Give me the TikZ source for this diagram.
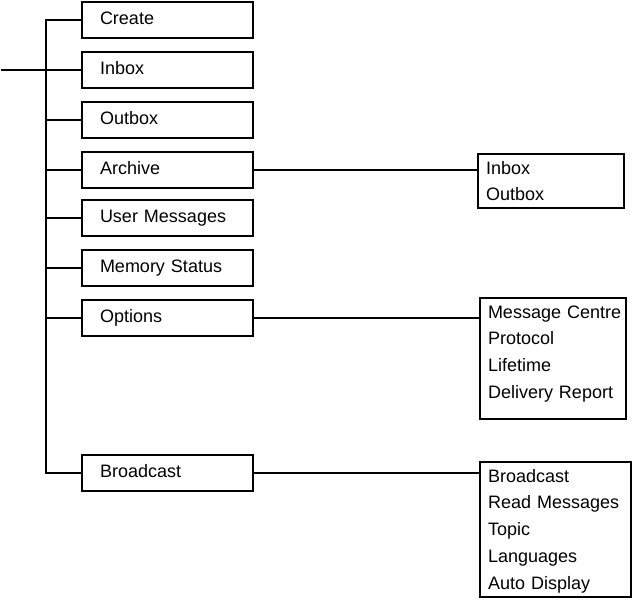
\documentclass[tikz,border=0pt]{standalone}
\usepackage{fontspec}
\setmainfont{Liberation Sans}
\hyphenpenalty=10000
\exhyphenpenalty=10000
\tikzset{
  % A first-level menu entry
  menubox/.style={
    draw, line width=2pt, anchor=west, align=left, outer sep=0pt,
    inner xsep=18pt, inner ysep=0pt, text width=135pt,
    minimum height=36pt, text height=12.5pt, text depth=3.5pt},
  % A box that lists the entries of a submenu
  sublist/.style={
    draw, line width=2pt, anchor=north west, align=left, outer sep=0pt,
    inner xsep=8pt, inner ysep=0pt, text width=#1, text height=20pt},
  % Tree lines
  link/.style={line width=2pt, line cap=rect},
}
\newcommand{\menuitem}[3]{%
  \node[menubox] (#1) at (82,#2) {#3};}

\begin{document}
\begin{tikzpicture}[x=1pt, y=-1pt, font=\fontsize{18}{26.8}\selectfont]
  \useasboundingbox (0,0) rectangle (632,600);

  \menuitem{create}{20}{Create}
  \menuitem{inbox}{70}{Inbox}
  \menuitem{outbox}{120}{Outbox}
  \menuitem{archive}{170}{Archive}
  \menuitem{usermsg}{218}{User Messages}
  \menuitem{memory}{268}{Memory Status}
  \menuitem{options}{318}{Options}
  \menuitem{broadcast}{473}{Broadcast}

  \node[sublist=130pt, text depth=34pt] (archivelist) at (478,154)
    {Inbox\\Outbox};
  \node[sublist=130pt, text depth=101pt] (optionslist) at (480,298)
    {Message~Centre\\Protocol\\Lifetime\\Delivery~Report};
  \node[sublist=135pt, text depth=115pt] (broadcastlist) at (480,462)
    {Broadcast\\Read~Messages\\Topic\\Languages\\Auto~Display};

  \coordinate (spine) at (46,0);
  \coordinate (feed) at (2,70);

  % the trunk and its branches
  \draw[link] (spine |- create.west) -- (spine |- broadcast.west);
  \draw[link] (feed) -- (spine |- inbox.west);
  \foreach \item in {create,inbox,outbox,archive,usermsg,memory,options,broadcast}
    \draw[link] (spine |- \item.west) -- (\item.west);

  % submenus
  \draw[link] (archive.east) -- (archive.east -| archivelist.west);
  \draw[link] (options.east) -- (options.east -| optionslist.west);
  \draw[link] (broadcast.east) -- (broadcast.east -| broadcastlist.west);

\end{tikzpicture}
\end{document}
